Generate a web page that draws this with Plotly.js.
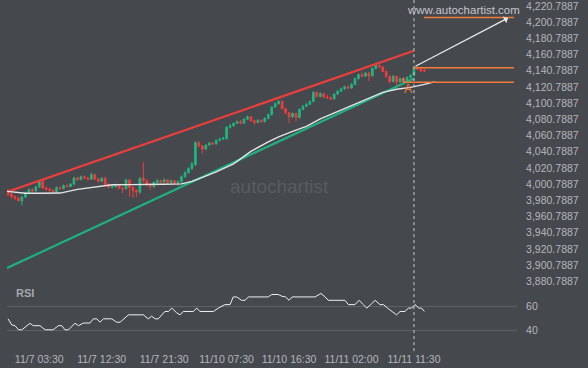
<!DOCTYPE html>
<html><head><meta charset="utf-8">
<script src="https://cdn.plot.ly/plotly-3.0.1.min.js"></script>
<style>html,body{margin:0;padding:0;background:#45484d;}#chart{width:588px;height:368px;}</style>
</head><body><div id="chart"></div>
<script>
// 30-minute candles, index 0..120
const openP = [3993.2,3988.5,3985.5,3983.5,3980,3985,3990,3994,3992.5,3997.5,
4004,3996,3994.5,3993,3991.5,3996.5,3995.5,3999,3998,4001,
4008.5,4006.5,4010,4008.5,4007,4012.5,4007,4004.5,4008,4000.5,
3997,3998,4000,3996,3995,4006,3997,3993,3991,4008,
4005,4000,3998,4003,4005,4003.5,4006,4003,4005,4002,
4004,4010,4015,4020,4025,4052,4048,4044,4049,4051.5,
4050.5,4055,4056.5,4057,4071,4073,4076,4078,4076,4081,
4084,4079,4077,4079.5,4078,4082,4086.5,4096,4100,4103,
4094,4089,4084,4088,4083,4093,4097,4099.5,4103,4114,
4109,4112.5,4108.5,4107.5,4106,4112,4115.5,4118.5,4121,4119.5,
4124,4131,4136,4134,4138,4134.5,4143.5,4147.5,4145.5,4140,
4134,4127.5,4134,4127,4131,4128,4132.5,4135,4144.5,4143,
4141.5];
const closeP = [3988.2,3985.5,3983.5,3980.5,3985,3990,3994,3992.5,3997.5,4004,
3996,3994.5,3993,3991.5,3996.5,3995.5,3999,3998,4001,4008.5,
4006.5,4010,4008.5,4007,4012.5,4007,4004.5,4008,4000.5,3997,
3998,4000,3996,3995,4006,3997,3993,3991,4008,4005,
4000,3998,4003,4005,4003.5,4006,4003,4005,4002,4004,
4010,4015,4020,4026,4052,4048,4044,4049,4051.5,4050.5,
4055,4056.5,4058,4071,4073,4076,4078,4076,4081,4084,
4079,4077,4079.5,4078,4082,4086.5,4096,4100,4103,4094,
4089,4084,4088,4083,4093,4097,4099.5,4103,4114,4109,
4112.5,4108.5,4107.5,4106,4112,4115.5,4118.5,4121,4119.5,4124,
4131,4136,4134,4138,4134.5,4143.5,4147.5,4145.5,4140,4134,
4127.5,4134,4127,4131,4128,4132.5,4135,4144.5,4143,4140.5,
4140.5];
const highP = [3994.4,3990,3987,3985,3986,3991.5,3995.5,3996,3999,4005.5,
4006.5,3998,3996.5,3995,3998,3998,4000.5,4000.5,4002,4010,
4010,4011.5,4011.5,4010,4015,4013.5,4008,4009.5,4010,4001.5,
3999.5,4001.5,4001,3997,4007.5,4007,3998,3994.5,4009,4028,
4007,4002,4004,4007,4006.5,4008,4007,4006.5,4006,4005.5,
4011.5,4016.5,4021.5,4028,4054,4054.5,4049,4050,4053,4053,
4056,4058,4059,4072.5,4075,4077,4079.5,4080,4082,4085.5,
4085.5,4080.5,4081,4081,4083.5,4088,4097,4102,4105,4104.5,
4095,4090,4089.5,4089,4094.5,4098.5,4101,4104,4116,4115.5,
4114.5,4113.5,4111,4109,4113.5,4117,4120,4122.5,4122.5,4125.5,
4132.5,4137.5,4139,4139.5,4139.5,4145,4150,4149,4146.5,4141,
4135,4135.5,4135,4132.5,4133,4134,4137,4146,4146,4144.5,
4143.5];
const lowP = [3985.7,3983,3981,3979,3974.6,3983.5,3988.5,3991,3991.5,3996,
3995,3993,3991.5,3990,3990.5,3994,3994.5,3996.5,3997,3999.5,
4005,4005.5,4007,4005.5,4006,4005.5,4003,4003.5,3999,3995.5,
3995.5,3996.5,3994.5,3990,3994,3985,3984,3985,3989,4003,
3998,3994,3996,4001.5,4002,4002.5,4001,4001.5,4000.5,3999,
4002.5,4008.5,4013.5,4018.5,4023,4046,4038.5,4043,4048,4049,
4049.5,4053.5,4055,4056,4069.5,4071.5,4074.5,4074.5,4075,4080,
4078,4074,4076,4076.5,4077,4081,4085.5,4095,4099,4093,
4087,4076,4082.5,4078,4082,4092,4096,4098.5,4102,4107.5,
4108,4107,4106,4104.5,4105,4111,4114.5,4117,4118,4118.5,
4123,4130,4132.5,4133,4128,4133.5,4142.5,4144,4139,4132,
4125,4126.5,4122.5,4126,4126,4127,4131.5,4134,4141.5,4139.5,
4139];

// moving average (read at vertices)
const maIdx = [-0.3,5,10,15,20,25,30,35,40,45,50,53,56,60,65,70,75,78,82,86,90,95,100,104,108,112,116,120,123];
const maVal = [3991.9,3989.5,3989.5,3989.8,3994.4,3997.5,4000,4000.2,4000,4000.6,4001.2,4004.3,4009.2,4016,4025.9,4041.3,4053,4059.2,4066,4072.2,4081.4,4090.7,4100,4107.4,4114.2,4117.9,4120.3,4124,4127.1];

// RSI (read at vertices)
const rsiIdx = [0,1.1,2,3,4,6.3,7.3,9.2,10.7,13,14.5,15.5,16.4,17.4,19.3,20.3,21.7,23.6,24.6,25.6,26.5,27.5,29.9,31.3,32.3,34.7,39,40.4,41.4,42.4,43.3,45.2,46.2,47.2,48.6,49.6,50.5,53.4,54.4,55.3,59.2,60.6,62.5,64,64.9,65.9,67.3,68.3,69.3,75,76,77.9,78.9,80,81,81.9,88.5,90.2,91.4,92.3,97.1,98.1,100,101.2,102.4,103.4,104.8,105.8,107.2,108.2,109.6,110.6,112,113,114.4,115.4,116.3,117.3,118.4,119.2,120];
const rsiVal = [49.9,44.8,44.2,40.8,40.8,46.2,44.2,44.2,40.8,40.8,44.2,44.2,40.8,40.8,46.2,44.2,46.4,46.4,49.9,49.9,47.1,49.9,49.9,47.1,47.1,53.2,53.2,49.9,52.1,49.9,49.9,56,56,58.8,54.9,53.2,56,56,58.8,56,56,58.8,61.7,61.7,68.1,68.1,65.3,65.3,68.1,68.1,70.1,70.1,68.7,68.1,65.3,68.1,68.1,71,68.1,65.3,65.3,61.7,61.7,65.3,61.7,58.8,62.5,65.3,61.7,61.7,58.3,56,53.2,56,56,58.8,58.8,61.7,58.8,58.8,56];

// channel lines
const chanIdx = [-0.3,117];
const resistVal = [3991.1,4165.6];
const supportVal = [3897.2,4131.4];

// forecast / levels
const arrowFrom = [117,4145.4];
const arrowTo = [144.1,4205.9];
const levelTop = 4206.7, levelMid = 4144.6, levelLow = 4126.5, levelLowTop = 4131.8;
const signalIdx = 117;

const tickIdx = [9,27,45,63,81,99,117];
const tickLabels = ['11/7 03:30','11/7 12:30','11/7 21:30','11/10 07:30','11/10 16:30','11/11 02:00','11/11 11:30'];
const priceTicks = [3880.7887,3900.7887,3920.7887,3940.7887,3960.7887,3980.7887,4000.7887,4020.7887,4040.7887,4060.7887,4080.7887,4100.7887,4120.7887,4140.7887,4160.7887,4180.7887,4200.7887,4220.7887];
const rsiTicks = [40,60];

const idx = openP.map((_, i) => i);
const GREEN = '#22b37f', RED = '#f23b3d', ORANGE = '#f27a3a', BG = '#45484d';

const traces = [
  {type:'scatter', mode:'lines', x:chanIdx, y:supportVal, line:{color:'#20b07e', width:2.2}, hoverinfo:'skip'},
  {type:'scatter', mode:'lines', x:chanIdx, y:resistVal, line:{color:'#ea3f3c', width:2.2}, hoverinfo:'skip'},
  {type:'candlestick', x:idx, open:openP, high:highP, low:lowP, close:closeP,
   increasing:{line:{color:GREEN, width:1}, fillcolor:GREEN},
   decreasing:{line:{color:RED, width:1}, fillcolor:RED}, whiskerwidth:0},
  {type:'scatter', mode:'lines', x:maIdx, y:maVal, line:{color:'#e4e4e4', width:1.4}, hoverinfo:'skip'},
  {type:'scatter', mode:'lines', x:rsiIdx, y:rsiVal, yaxis:'y2', line:{color:'#f0f0f0', width:1}, hoverinfo:'skip'}
];

const axFont = {family:'Liberation Sans, Arial, sans-serif', size:10.5, color:'#b4b7bc'};
const layout = {
  width:588, height:368,
  margin:{l:7, r:71, t:2, b:21},
  paper_bgcolor:BG, plot_bgcolor:BG, showlegend:false,
  font:axFont,
  xaxis:{range:[-0.3,146.7], anchor:'y2', showgrid:false, zeroline:false, showline:false,
    tickmode:'array', tickvals:tickIdx, ticktext:tickLabels, ticks:'outside', ticklen:2,
    tickcolor:'rgba(0,0,0,0)', tickfont:axFont, ticklabeloverflow:'allow',
    rangeslider:{visible:false}, fixedrange:true},
  yaxis:{domain:[0.1797,1], range:[3876.3,4225.7], side:'right', showgrid:false, zeroline:false,
    showline:false, tickmode:'array', tickvals:priceTicks, tickformat:',.4f',
    ticks:'outside', ticklen:6, tickcolor:'rgba(0,0,0,0)', tickfont:axFont, ticklabeloverflow:'allow'},
  yaxis2:{domain:[0,0.1797], range:[26.5,78], side:'right', anchor:'x', showgrid:true,
    gridcolor:'#5e6166', gridwidth:1, zeroline:false, showline:false, tickmode:'array',
    tickvals:rsiTicks, ticks:'outside', ticklen:6, tickcolor:'rgba(0,0,0,0)', tickfont:axFont},
  shapes:[
    {type:'line', xref:'x', yref:'paper', x0:signalIdx, x1:signalIdx, y0:-0.012, y1:1.006,
     line:{color:'#cfcfcf', width:1, dash:'3px,3px'}},
    {type:'line', xref:'x', yref:'y', x0:119.9, x1:145.8, y0:levelTop, y1:levelTop, line:{color:ORANGE, width:1.5}},
    {type:'line', xref:'x', yref:'y', x0:117, x1:145.8, y0:levelMid, y1:levelMid, line:{color:ORANGE, width:1.5}},
    {type:'line', xref:'x', yref:'y', x0:113.9, x1:145.8, y0:levelLow, y1:levelLow, line:{color:ORANGE, width:1.5}},
    {type:'line', xref:'x', yref:'y', x0:113.9, x1:113.9, y0:levelLow, y1:levelLowTop, line:{color:ORANGE, width:1.5}}
  ],
  annotations:[
    {xref:'x', yref:'y', x:arrowTo[0], y:arrowTo[1], ax:arrowFrom[0], ay:arrowFrom[1], axref:'x', ayref:'y',
     showarrow:true, arrowhead:1, arrowsize:1, arrowwidth:1.3, arrowcolor:'#e8e8e8', text:''},
    {xref:'x', yref:'y', x:131.2, y:4216.2, text:'www.autochartist.com', showarrow:false,
     font:{family:'Liberation Sans, Arial, sans-serif', size:11.5, color:'#c4c6ca'}},
    {xref:'x', yref:'y', x:78.1, y:3998, text:'autochartist', showarrow:false,
     font:{family:'Liberation Sans, Arial, sans-serif', size:19, color:'#595c61'}},
    {xref:'x', yref:'y2', x:1.7, y:71.2, xanchor:'left', text:'<b>RSI</b>', showarrow:false,
     font:{family:'Liberation Sans, Arial, sans-serif', size:11, color:'#a3a7ad'}},
    {xref:'x', yref:'y', x:115.2, y:4118.4, text:'A', showarrow:false,
     font:{family:'Liberation Sans, Arial, sans-serif', size:12, color:ORANGE}}
  ]
};

Plotly.newPlot('chart', traces, layout, {staticPlot:true, displayModeBar:false});
</script></body></html>
